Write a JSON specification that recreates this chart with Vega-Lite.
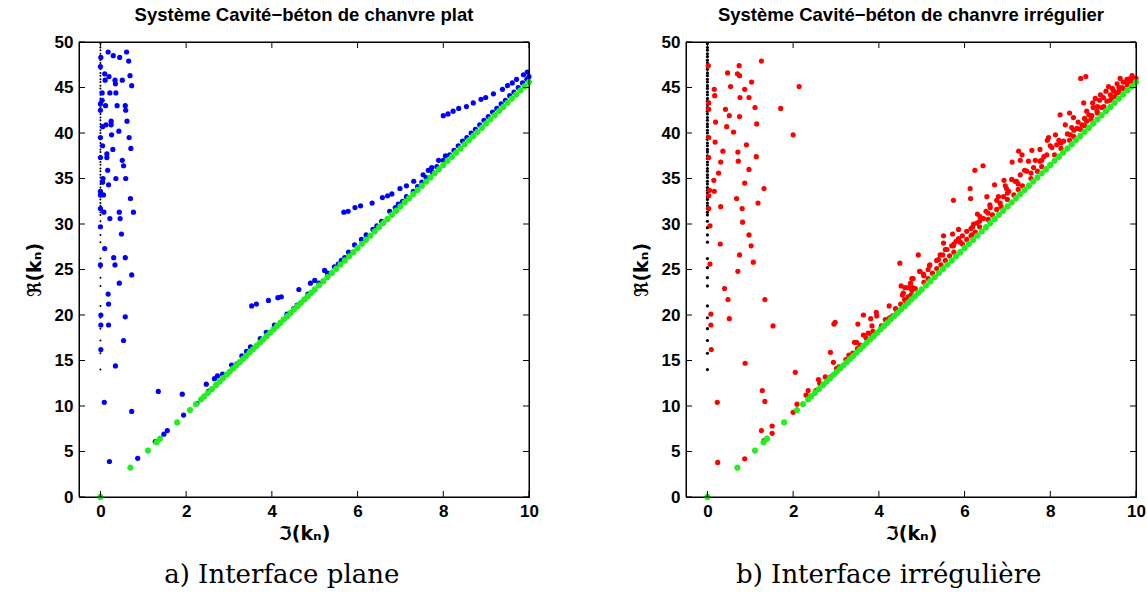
{
  "$schema": "https://vega.github.io/schema/vega-lite/v6.json",
  "background": "white",
  "padding": {"left": 24, "top": 5, "right": 0, "bottom": 0},
  "config": {
    "view": {"stroke": "black", "strokeWidth": 1},
    "axis": {
      "domain": true, "domainColor": "black", "domainWidth": 1,
      "labelFont": "Liberation Sans", "labelFontWeight": "bold", "labelFontSize": 17, "labelColor": "black",
      "titleFont": "DejaVu Sans", "titleFontWeight": "bold", "titleFontSize": 19, "titleColor": "black",
      "ticks": false, "grid": false, "labelFlush": false, "labelOverlap": false
    }
  },
  "spacing": 92,
  "datasets": {
    "ticksX": [{"v":0},{"v":2},{"v":4},{"v":6},{"v":8},{"v":10}],
    "ticksY": [{"v":0},{"v":5},{"v":10},{"v":15},{"v":20},{"v":25},{"v":30},{"v":35},{"v":40},{"v":45},{"v":50}],
    "black": [
      {"x":0,"y":14.0},{"x":0,"y":15.8},{"x":0,"y":17.2},{"x":0,"y":18.5},{"x":0,"y":19.7},{"x":0,"y":21.0},{"x":0,"y":23.2},{"x":0,"y":24.1},{"x":0,"y":25.2},{"x":0,"y":26.2},{"x":0,"y":28.0},{"x":0,"y":28.8},{"x":0,"y":29.6},{"x":0,"y":30.3},
      {"x":0,"y":31.0},{"x":0,"y":31.3},{"x":0,"y":31.7},{"x":0,"y":32.0},{"x":0,"y":32.3},{"x":0,"y":32.7},{"x":0,"y":33.0},{"x":0,"y":33.4},{"x":0,"y":33.7},{"x":0,"y":34.0},{"x":0,"y":34.4},{"x":0,"y":34.7},{"x":0,"y":35.1},{"x":0,"y":35.4},{"x":0,"y":35.8},{"x":0,"y":36.1},{"x":0,"y":36.5},{"x":0,"y":36.8},{"x":0,"y":37.2},{"x":0,"y":37.5},{"x":0,"y":37.9},{"x":0,"y":38.2},{"x":0,"y":38.6},{"x":0,"y":38.9},{"x":0,"y":39.3},{"x":0,"y":39.6},{"x":0,"y":40.0},{"x":0,"y":40.3},{"x":0,"y":40.7},{"x":0,"y":41.0},{"x":0,"y":41.4},{"x":0,"y":41.7},{"x":0,"y":42.1},{"x":0,"y":42.4},{"x":0,"y":42.8},{"x":0,"y":43.1},{"x":0,"y":43.5},{"x":0,"y":43.8},{"x":0,"y":44.2},{"x":0,"y":44.5},{"x":0,"y":44.9},{"x":0,"y":45.2},{"x":0,"y":45.6},{"x":0,"y":45.9},{"x":0,"y":46.3},{"x":0,"y":46.6},{"x":0,"y":47.0},{"x":0,"y":47.3},{"x":0,"y":47.7},{"x":0,"y":48.0},{"x":0,"y":48.4},{"x":0,"y":48.7},{"x":0,"y":49.1},{"x":0,"y":49.4},{"x":0,"y":49.8}
    ],
    "green": [
      {"x":0,"y":0},{"x":0.70,"y":3.22},{"x":1.11,"y":5.10},{"x":1.31,"y":6.00},{"x":1.39,"y":6.40},{"x":1.79,"y":8.20},{"x":2.09,"y":9.55},{"x":2.23,"y":10.20},{"x":2.35,"y":10.72},{"x":2.42,"y":11.05},{"x":2.51,"y":11.45},{"x":2.60,"y":11.86},{"x":2.70,"y":12.31},{"x":2.78,"y":12.68},{"x":2.86,"y":13.05},{"x":2.95,"y":13.45},{"x":3.02,"y":13.78},{"x":3.10,"y":14.14},{"x":3.17,"y":14.46},{"x":3.25,"y":14.82},{"x":3.33,"y":15.18},{"x":3.40,"y":15.50},{"x":3.48,"y":15.87},{"x":3.56,"y":16.23},{"x":3.64,"y":16.60},{"x":3.72,"y":16.96},{"x":3.80,"y":17.33},{"x":3.88,"y":17.69},{"x":3.96,"y":18.06},{"x":4.04,"y":18.42},{"x":4.12,"y":18.79},{"x":4.20,"y":19.15},{"x":4.28,"y":19.52},{"x":4.36,"y":19.88},{"x":4.44,"y":20.25},{"x":4.52,"y":20.61},{"x":4.60,"y":20.98},{"x":4.68,"y":21.34},{"x":4.76,"y":21.71},{"x":4.84,"y":22.07},{"x":4.92,"y":22.44},{"x":5.00,"y":22.80},
      {"x":5.1,"y":23.26},{"x":5.2,"y":23.71},{"x":5.3,"y":24.17},{"x":5.4,"y":24.62},{"x":5.5,"y":25.08},{"x":5.6,"y":25.54},{"x":5.7,"y":25.99},{"x":5.8,"y":26.45},{"x":5.9,"y":26.90},{"x":6.0,"y":27.36},{"x":6.1,"y":27.82},{"x":6.2,"y":28.27},{"x":6.3,"y":28.73},{"x":6.4,"y":29.18},{"x":6.5,"y":29.64},{"x":6.6,"y":30.10},{"x":6.7,"y":30.55},{"x":6.8,"y":31.01},{"x":6.9,"y":31.46},{"x":7.0,"y":31.92},{"x":7.1,"y":32.38},{"x":7.2,"y":32.83},{"x":7.3,"y":33.29},{"x":7.4,"y":33.74},{"x":7.5,"y":34.20},{"x":7.6,"y":34.66},{"x":7.7,"y":35.11},{"x":7.8,"y":35.57},{"x":7.9,"y":36.02},{"x":8.0,"y":36.48},{"x":8.1,"y":36.94},{"x":8.2,"y":37.39},{"x":8.3,"y":37.85},{"x":8.4,"y":38.30},{"x":8.5,"y":38.76},{"x":8.6,"y":39.22},{"x":8.7,"y":39.67},{"x":8.8,"y":40.13},{"x":8.9,"y":40.58},{"x":9.0,"y":41.04},{"x":9.1,"y":41.50},{"x":9.2,"y":41.95},{"x":9.3,"y":42.41},{"x":9.4,"y":42.86},{"x":9.5,"y":43.32},{"x":9.6,"y":43.78},{"x":9.7,"y":44.23},{"x":9.8,"y":44.69},{"x":9.9,"y":45.14},{"x":10.0,"y":45.60}
    ],
    "blue": [
      {"x":0.18,"y":48.9},{"x":0.61,"y":48.9},{"x":0.30,"y":48.5},{"x":0.45,"y":48.3},{"x":0.01,"y":48.3},{"x":0.66,"y":47.9},{"x":0,"y":47.3},{"x":0.10,"y":46.5},{"x":0.20,"y":46.2},{"x":0.69,"y":46.3},{"x":0.11,"y":45.8},{"x":0.34,"y":45.8},{"x":0.35,"y":45.4},{"x":0.51,"y":45.8},{"x":0.73,"y":45.2},{"x":0.04,"y":44.4},{"x":0.22,"y":44.4},{"x":0.36,"y":44.4},{"x":0.04,"y":43.6},{"x":0,"y":43.2},{"x":0.12,"y":43.0},{"x":0.39,"y":43.0},{"x":0.58,"y":43.0},{"x":0.59,"y":42.5},{"x":0,"y":42.5},{"x":0.05,"y":40.7},{"x":0.13,"y":40.9},{"x":0.25,"y":41.3},{"x":0.25,"y":40.9},{"x":0.62,"y":41.3},{"x":0.43,"y":40.2},{"x":0,"y":39.5},{"x":0.26,"y":39.8},{"x":0.67,"y":39.5},{"x":0.05,"y":38.6},{"x":0.29,"y":38.2},{"x":0.71,"y":38.3},{"x":0,"y":37.3},{"x":0.15,"y":37.7},{"x":0.15,"y":37.3},{"x":0.51,"y":37.0},{"x":0.54,"y":36.4},{"x":0.17,"y":35.9},{"x":0.06,"y":35.0},{"x":0.36,"y":35.0},{"x":0.59,"y":35.0},{"x":0.05,"y":34.6},{"x":0.19,"y":34.3},{"x":0,"y":33.6},{"x":0,"y":33.2},{"x":0.07,"y":33.2},{"x":0.70,"y":32.8},{"x":0,"y":31.7},{"x":0.08,"y":31.3},{"x":0.44,"y":31.3},{"x":0.77,"y":31.3},{"x":0.22,"y":30.6},{"x":0.46,"y":30.6},{"x":0,"y":29.7},{"x":0.49,"y":28.9},{"x":0.10,"y":27.3},{"x":0.31,"y":26.3},{"x":0.58,"y":26.3},{"x":0,"y":25.5},{"x":0.34,"y":25.5},{"x":0.73,"y":24.4},{"x":0.44,"y":23.5},{"x":0.18,"y":22.3},{"x":0.19,"y":21.2},{"x":0.01,"y":20.0},{"x":0.58,"y":19.8},{"x":0.01,"y":18.9},{"x":0.19,"y":18.9},{"x":0.54,"y":17.2},{"x":0.01,"y":16.2},{"x":0.35,"y":14.4},{"x":1.35,"y":11.6},{"x":1.91,"y":11.3},{"x":0.09,"y":10.4},{"x":0.73,"y":9.4},{"x":1.94,"y":9.0},{"x":1.56,"y":7.3},{"x":1.48,"y":6.9},{"x":1.28,"y":6.1},{"x":0.87,"y":4.25},{"x":0.21,"y":3.9},
      {"x":2.25,"y":10.3},{"x":2.47,"y":12.4},{"x":2.52,"y":11.6},{"x":2.66,"y":13.0},{"x":2.73,"y":13.3},{"x":2.85,"y":13.5},{"x":3.06,"y":14.5},{"x":3.18,"y":14.6},{"x":3.30,"y":15.5},{"x":3.41,"y":16.0},{"x":3.50,"y":16.5},{"x":3.53,"y":21.0},{"x":3.64,"y":21.2},{"x":3.73,"y":17.4},{"x":3.87,"y":18.1},{"x":3.92,"y":21.6},{"x":4.06,"y":18.9},{"x":4.14,"y":21.9},{"x":4.22,"y":22.0},{"x":4.35,"y":20.1},{"x":4.51,"y":20.7},{"x":4.59,"y":21.1},{"x":4.63,"y":22.8},{"x":4.84,"y":22.3},{"x":4.90,"y":23.5},{"x":5.0,"y":23.8},{"x":5.1,"y":23.5},
      {"x":5.68,"y":31.3},{"x":5.78,"y":31.4},{"x":5.94,"y":31.8},{"x":6.07,"y":32.0},{"x":6.34,"y":32.3},{"x":6.58,"y":32.9},{"x":6.70,"y":33.1},{"x":6.80,"y":33.3},{"x":6.99,"y":33.9},{"x":7.14,"y":34.2},{"x":7.31,"y":34.7},{"x":7.53,"y":35.4},{"x":7.65,"y":35.9},{"x":7.73,"y":36.2},{"x":7.89,"y":37.0},{"x":8.05,"y":37.5},
      {"x":8.00,"y":41.9},{"x":8.11,"y":42.1},{"x":8.23,"y":42.4},{"x":8.36,"y":42.7},{"x":8.54,"y":42.9},{"x":8.70,"y":43.3},{"x":8.88,"y":43.7},{"x":8.99,"y":43.9},{"x":9.17,"y":44.3},{"x":9.38,"y":44.8},{"x":9.50,"y":45.2},{"x":9.61,"y":45.5},{"x":9.71,"y":45.9},{"x":9.87,"y":46.4},{"x":9.96,"y":46.7},
      {"x":5.23,"y":24.9},{"x":5.30,"y":24.6},{"x":5.46,"y":25.3},{"x":5.55,"y":25.6},{"x":5.62,"y":26.0},{"x":5.70,"y":26.3},{"x":5.79,"y":26.9},{"x":5.93,"y":27.7},{"x":6.09,"y":28.3},{"x":6.20,"y":28.8},{"x":6.36,"y":29.4},{"x":6.45,"y":29.8},{"x":6.56,"y":30.3},{"x":6.75,"y":31.4},{"x":6.88,"y":31.8},{"x":6.95,"y":32.2},{"x":7.05,"y":32.5},{"x":7.14,"y":33.0},{"x":7.30,"y":33.6},{"x":7.40,"y":34.1},{"x":7.50,"y":34.6},{"x":7.60,"y":35.1},{"x":7.75,"y":35.7},{"x":7.85,"y":36.3},{"x":8.0,"y":37.0},{"x":8.15,"y":37.6},{"x":8.25,"y":38.1},{"x":8.35,"y":38.6},{"x":8.45,"y":39.1},{"x":8.55,"y":39.5},{"x":8.65,"y":40.0},{"x":8.75,"y":40.4},{"x":8.85,"y":40.9},{"x":8.95,"y":41.4},{"x":9.05,"y":41.8},{"x":9.15,"y":42.3},{"x":9.25,"y":42.7},{"x":9.35,"y":43.2},{"x":9.45,"y":43.6},{"x":9.55,"y":44.1},{"x":9.65,"y":44.5},{"x":9.75,"y":45.0},{"x":9.85,"y":45.5},{"x":9.95,"y":45.9},{"x":10.0,"y":46.2}
    ],
    "red": [
      {"x":1.26,"y":47.9},{"x":0.74,"y":47.4},{"x":0.02,"y":47.4},{"x":0.47,"y":46.6},{"x":0.70,"y":46.5},{"x":0.75,"y":46.3},{"x":1.03,"y":45.6},{"x":0.16,"y":44.8},{"x":0.54,"y":45.1},{"x":2.14,"y":45.1},{"x":0.87,"y":44.8},{"x":0.17,"y":44.1},{"x":0.76,"y":43.9},{"x":0.97,"y":43.9},{"x":0.03,"y":43.3},{"x":1.11,"y":42.8},{"x":1.71,"y":42.7},{"x":0.42,"y":42.6},{"x":0.03,"y":42.6},{"x":0.51,"y":41.9},{"x":0.75,"y":41.8},{"x":0.19,"y":41.2},{"x":0.45,"y":40.7},{"x":1.15,"y":41.0},{"x":0.61,"y":40.1},{"x":2.00,"y":39.8},{"x":0.03,"y":39.5},{"x":0.18,"y":39.0},{"x":0.91,"y":38.7},{"x":0.36,"y":38.0},{"x":0.71,"y":37.9},{"x":0.03,"y":37.3},{"x":1.14,"y":37.4},{"x":0.72,"y":36.9},{"x":0.31,"y":36.8},{"x":0.97,"y":36.0},{"x":0.26,"y":35.6},{"x":0.15,"y":34.8},{"x":0.87,"y":34.5},{"x":0.05,"y":33.7},{"x":0.16,"y":33.6},{"x":1.32,"y":33.9},{"x":0.03,"y":33.1},{"x":0.68,"y":32.8},{"x":1.18,"y":32.3},{"x":0.03,"y":31.7},{"x":0.31,"y":31.9},{"x":0.81,"y":31.7},{"x":0.82,"y":30.2},{"x":0.06,"y":29.8},{"x":0.97,"y":28.8},{"x":0.30,"y":27.8},{"x":1.02,"y":27.6},{"x":0.75,"y":26.6},{"x":1.07,"y":25.8},{"x":0.06,"y":25.6},{"x":0.71,"y":24.8},{"x":0.40,"y":22.9},{"x":0.48,"y":21.7},{"x":1.34,"y":21.7},{"x":0.08,"y":20.1},{"x":0.08,"y":18.9},{"x":0.51,"y":19.6},{"x":1.53,"y":18.8},{"x":0.09,"y":16.2},{"x":0.88,"y":14.7},{"x":2.05,"y":13.7},{"x":1.28,"y":11.7},{"x":1.34,"y":10.5},{"x":0.23,"y":10.4},{"x":2.09,"y":10.2},{"x":2.00,"y":9.3},{"x":1.26,"y":7.3},{"x":1.51,"y":7.8},{"x":1.51,"y":7.0},{"x":1.32,"y":6.2},{"x":0.87,"y":4.2},{"x":0.24,"y":3.8},
      {"x":2.30,"y":11.2},{"x":2.35,"y":11.7},{"x":2.41,"y":11.1},{"x":2.53,"y":11.7},{"x":2.59,"y":12.9},{"x":2.62,"y":12.5},{"x":2.75,"y":13.2},{"x":2.87,"y":13.2},{"x":2.87,"y":15.9},{"x":2.94,"y":14.8},{"x":2.95,"y":19.0},{"x":2.98,"y":19.2},{"x":3.01,"y":14.1},{"x":3.07,"y":14.3},{"x":3.23,"y":15.1},{"x":3.39,"y":15.8},{"x":3.43,"y":17.0},{"x":3.48,"y":17.0},{"x":3.51,"y":19.0},{"x":3.50,"y":16.3},{"x":3.56,"y":16.7},{"x":3.64,"y":20.0},{"x":3.64,"y":17.8},{"x":3.75,"y":18.0},{"x":3.81,"y":19.6},{"x":3.84,"y":18.8},{"x":3.86,"y":18.2},{"x":3.84,"y":17.8},{"x":3.94,"y":20.3},{"x":3.95,"y":19.9},{"x":4.06,"y":18.8},{"x":4.24,"y":21.0},{"x":4.25,"y":19.7},{"x":4.32,"y":19.9},{"x":4.39,"y":20.7},{"x":4.42,"y":20.4},{"x":4.51,"y":21.2},{"x":4.52,"y":23.2},{"x":4.55,"y":22.2},{"x":4.63,"y":21.5},{"x":4.68,"y":22.0},{"x":4.74,"y":23.5},{"x":4.79,"y":23.0},{"x":4.77,"y":22.7},{"x":4.75,"y":22.2},{"x":4.49,"y":25.7},
      {"x":5.74,"y":32.6},{"x":6.13,"y":33.9},{"x":6.14,"y":32.8},{"x":6.24,"y":35.9},{"x":6.43,"y":36.4},{"x":4.92,"y":26.6},{"x":5.51,"y":28.7},{"x":5.51,"y":27.9},{"x":5.72,"y":28.9},{"x":5.86,"y":29.4},{"x":6.19,"y":29.7},{"x":6.30,"y":31.1},{"x":6.52,"y":33.0},{"x":6.70,"y":34.3},{"x":6.92,"y":34.8},{"x":7.11,"y":36.8},{"x":7.26,"y":38.0},{"x":7.34,"y":37.6},{"x":7.57,"y":38.1},{"x":7.93,"y":39.2},{"x":8.23,"y":42.0},{"x":8.45,"y":42.2},{"x":8.71,"y":46.0},{"x":8.83,"y":46.2},{"x":8.78,"y":43.3},{"x":8.99,"y":43.3},{"x":9.17,"y":44.2},{"x":9.36,"y":45.1},{"x":9.63,"y":46.0},{"x":9.87,"y":46.0},{"x":9.94,"y":46.0},{"x":9.79,"y":45.9},{"x":7.30,"y":37.0},{"x":7.49,"y":36.9},{"x":7.76,"y":38.2},{"x":7.96,"y":39.5},{"x":8.12,"y":39.8},{"x":8.35,"y":40.9},{"x":8.54,"y":41.7},{"x":8.50,"y":40.6},{"x":8.85,"y":42.4},{"x":9.00,"y":42.8},{"x":9.24,"y":43.9},{"x":9.48,"y":44.6},{"x":9.56,"y":45.4},{"x":6.91,"y":33.0},{"x":7.03,"y":33.6},{"x":7.18,"y":34.7},{"x":6.83,"y":32.3},{"x":6.60,"y":31.8},{"x":6.44,"y":30.6},{"x":6.29,"y":30.1},{"x":6.17,"y":28.8},{"x":5.90,"y":28.0},{"x":5.74,"y":27.6},{"x":5.43,"y":26.6},{"x":5.18,"y":25.4},{"x":4.96,"y":24.8},{"x":4.77,"y":24.0},{"x":4.61,"y":23.0},
      {"x":4.57,"y":22.4},{"x":4.69,"y":23.0},{"x":4.80,"y":24.0},{"x":4.95,"y":24.8},{"x":5.04,"y":24.5},{"x":5.19,"y":25.5},{"x":5.39,"y":26.1},{"x":5.49,"y":26.6},{"x":5.59,"y":27.2},{"x":5.70,"y":27.6},{"x":5.80,"y":28.1},{"x":5.86,"y":28.4},{"x":6.05,"y":29.2},{"x":6.21,"y":30.0},{"x":6.36,"y":30.8},{"x":6.50,"y":31.4},{"x":6.59,"y":32.1},{"x":6.79,"y":33.0},{"x":6.98,"y":33.9},{"x":7.21,"y":34.7},{"x":7.30,"y":35.4},{"x":7.45,"y":35.8},{"x":7.61,"y":36.2},{"x":7.76,"y":36.9},{"x":7.92,"y":37.6},{"x":8.04,"y":38.4},{"x":8.15,"y":38.7},{"x":8.31,"y":39.1},{"x":8.47,"y":39.8},{"x":8.62,"y":40.5},{"x":8.74,"y":40.9},{"x":8.85,"y":41.3},{"x":8.97,"y":41.9},{"x":9.09,"y":42.4},{"x":9.20,"y":42.8},{"x":9.32,"y":43.5},{"x":9.44,"y":43.9},{"x":9.56,"y":44.4},{"x":9.67,"y":45.0},{"x":9.79,"y":45.5},{"x":9.87,"y":45.8},{"x":9.91,"y":46.3},
      {"x":9.60,"y":45.0},{"x":9.70,"y":45.6},{"x":9.85,"y":45.4},{"x":9.95,"y":45.9},{"x":10.0,"y":46.0},{"x":9.45,"y":44.9},{"x":9.30,"y":44.6},{"x":9.15,"y":43.6},{"x":9.05,"y":43.8},{"x":8.90,"y":42.0},{"x":8.65,"y":41.2},{"x":8.40,"y":39.9},{"x":8.20,"y":39.2},{"x":8.00,"y":38.6},{"x":7.85,"y":37.4},{"x":7.65,"y":37.0},{"x":7.40,"y":35.9},{"x":7.10,"y":34.9},{"x":6.95,"y":34.2},
      {"x":5.05,"y":23.6},{"x":5.05,"y":24.3},{"x":5.15,"y":24.0},{"x":5.15,"y":25.0},{"x":5.25,"y":24.6},{"x":5.35,"y":25.1},{"x":5.35,"y":26.0},{"x":5.45,"y":25.5},{"x":5.55,"y":26.0},{"x":5.55,"y":27.2},{"x":5.65,"y":26.5},{"x":5.75,"y":26.9},{"x":5.75,"y":27.8},{"x":5.95,"y":27.8},{"x":5.95,"y":28.7},{"x":6.05,"y":28.3},{"x":6.15,"y":28.7},{"x":6.15,"y":29.5},{"x":6.25,"y":29.1},{"x":6.35,"y":29.7},{"x":6.35,"y":30.3},{"x":6.55,"y":30.5},{"x":6.55,"y":31.2},{"x":6.65,"y":31.0},{"x":6.75,"y":31.6},{"x":6.75,"y":32.6},{"x":6.85,"y":31.9},{"x":7.0,"y":32.7},{"x":7.0,"y":33.4},{"x":7.15,"y":33.2},{"x":7.25,"y":33.8},{"x":7.25,"y":34.4},{"x":7.35,"y":34.2},{"x":7.55,"y":35.0},{"x":7.55,"y":35.6},{"x":7.7,"y":35.8},{"x":7.8,"y":36.3},{"x":7.8,"y":37.0},{"x":8.1,"y":37.6},{"x":8.25,"y":38.3},{"x":8.25,"y":38.9},{"x":8.45,"y":39.2},{"x":8.55,"y":39.6},{"x":8.55,"y":40.3},{"x":8.7,"y":40.4},{"x":8.8,"y":40.8},{"x":8.8,"y":41.6},{"x":8.95,"y":41.5},{"x":9.1,"y":42.2},{"x":9.1,"y":42.9},{"x":9.25,"y":42.9},{"x":9.4,"y":43.6},{"x":9.4,"y":44.2},{"x":9.5,"y":44.0},{"x":9.6,"y":44.5},{"x":9.7,"y":44.9},{"x":9.8,"y":45.3},{"x":9.9,"y":45.7},{"x":3.3,"y":15.6},{"x":3.7,"y":17.5},{"x":4.15,"y":19.5},{"x":4.6,"y":21.7},{"x":4.85,"y":22.9}
    ]
  },
  "hconcat": [
    {
      "title": {"text": "a) Interface plane", "orient": "bottom", "anchor": "middle", "font": "DejaVu Serif", "fontSize": 26, "fontWeight": "normal", "color": "black", "offset": 18},
      "vconcat": [
        {
          "width": 450, "height": 455,
          "title": {"text": "Système Cavité−béton de chanvre plat", "anchor": "middle", "frame": "group", "font": "Liberation Sans", "fontSize": 18.5, "fontWeight": "bold", "color": "black", "offset": 9},
          "layer": [
            {
              "data": {"name": "black"},
              "mark": {"type": "point", "filled": true, "color": "black", "size": 4, "opacity": 1},
              "encoding": {
                "x": {"field": "x", "type": "quantitative", "scale": {"domain": [-0.5, 10], "nice": false, "zero": false}, "axis": {"title": "ℑ(kₙ)", "titlePadding": 5, "labelPadding": 6, "values": [0,2,4,6,8,10]}},
                "y": {"field": "y", "type": "quantitative", "scale": {"domain": [0, 50], "nice": false, "zero": false}, "axis": {"title": "ℜ(kₙ)", "titlePadding": 10, "labelPadding": 6, "values": [0,5,10,15,20,25,30,35,40,45,50]}}
              }
            },
            {
              "data": {"name": "blue"},
              "mark": {"type": "point", "filled": true, "color": "#0000ff", "size": 27, "opacity": 1},
              "encoding": {
                "x": {"field": "x", "type": "quantitative"},
                "y": {"field": "y", "type": "quantitative"}
              }
            },
            {
              "data": {"name": "green"},
              "mark": {"type": "point", "filled": false, "shape": "M-1,0H1M0,-1V1M-0.7,-0.7L0.7,0.7M-0.7,0.7L0.7,-0.7", "color": "#22ee22", "strokeWidth": 2, "size": 40, "opacity": 1},
              "encoding": {
                "x": {"field": "x", "type": "quantitative"},
                "y": {"field": "y", "type": "quantitative"}
              }
            },
            {"data": {"values": [{}]}, "mark": {"type": "rect", "filled": false, "color": "black", "strokeWidth": 1}, "encoding": {"x": {"datum": -0.5}, "x2": {"datum": 10}, "y": {"datum": 0}, "y2": {"datum": 50}}},
            {"data": {"name": "ticksX"}, "mark": {"type": "tick", "orient": "vertical", "color": "black", "size": 6, "thickness": 1, "opacity": 1}, "encoding": {"x": {"field": "v", "type": "quantitative"}, "y": {"datum": 0.33}}},
            {"data": {"name": "ticksX"}, "mark": {"type": "tick", "orient": "vertical", "color": "black", "size": 6, "thickness": 1, "opacity": 1}, "encoding": {"x": {"field": "v", "type": "quantitative"}, "y": {"datum": 49.67}}},
            {"data": {"name": "ticksY"}, "mark": {"type": "tick", "orient": "horizontal", "color": "black", "size": 6, "thickness": 1, "opacity": 1}, "encoding": {"y": {"field": "v", "type": "quantitative"}, "x": {"datum": -0.43}}},
            {"data": {"name": "ticksY"}, "mark": {"type": "tick", "orient": "horizontal", "color": "black", "size": 6, "thickness": 1, "opacity": 1}, "encoding": {"y": {"field": "v", "type": "quantitative"}, "x": {"datum": 9.93}}}
          ]
        }
      ]
    },
    {
      "title": {"text": "b) Interface irrégulière", "orient": "bottom", "anchor": "middle", "font": "DejaVu Serif", "fontSize": 26, "fontWeight": "normal", "color": "black", "offset": 18},
      "vconcat": [
        {
          "width": 450, "height": 455,
          "title": {"text": "Système Cavité−béton de chanvre irrégulier", "anchor": "middle", "frame": "group", "font": "Liberation Sans", "fontSize": 18.5, "fontWeight": "bold", "color": "black", "offset": 9},
          "layer": [
            {
              "data": {"name": "black"},
              "mark": {"type": "point", "filled": true, "color": "black", "size": 10, "opacity": 1},
              "encoding": {
                "x": {"field": "x", "type": "quantitative", "scale": {"domain": [-0.5, 10], "nice": false, "zero": false}, "axis": {"title": "ℑ(kₙ)", "titlePadding": 5, "labelPadding": 6, "values": [0,2,4,6,8,10]}},
                "y": {"field": "y", "type": "quantitative", "scale": {"domain": [0, 50], "nice": false, "zero": false}, "axis": {"title": "ℜ(kₙ)", "titlePadding": 10, "labelPadding": 6, "values": [0,5,10,15,20,25,30,35,40,45,50]}}
              }
            },
            {
              "data": {"name": "red"},
              "mark": {"type": "point", "filled": true, "color": "#ff0000", "size": 27, "opacity": 1},
              "encoding": {
                "x": {"field": "x", "type": "quantitative"},
                "y": {"field": "y", "type": "quantitative"}
              }
            },
            {
              "data": {"name": "green"},
              "mark": {"type": "point", "filled": false, "shape": "M-1,0H1M0,-1V1M-0.7,-0.7L0.7,0.7M-0.7,0.7L0.7,-0.7", "color": "#22ee22", "strokeWidth": 2, "size": 40, "opacity": 1},
              "encoding": {
                "x": {"field": "x", "type": "quantitative"},
                "y": {"field": "y", "type": "quantitative"}
              }
            },
            {"data": {"values": [{}]}, "mark": {"type": "rect", "filled": false, "color": "black", "strokeWidth": 1}, "encoding": {"x": {"datum": -0.5}, "x2": {"datum": 10}, "y": {"datum": 0}, "y2": {"datum": 50}}},
            {"data": {"name": "ticksX"}, "mark": {"type": "tick", "orient": "vertical", "color": "black", "size": 6, "thickness": 1, "opacity": 1}, "encoding": {"x": {"field": "v", "type": "quantitative"}, "y": {"datum": 0.33}}},
            {"data": {"name": "ticksX"}, "mark": {"type": "tick", "orient": "vertical", "color": "black", "size": 6, "thickness": 1, "opacity": 1}, "encoding": {"x": {"field": "v", "type": "quantitative"}, "y": {"datum": 49.67}}},
            {"data": {"name": "ticksY"}, "mark": {"type": "tick", "orient": "horizontal", "color": "black", "size": 6, "thickness": 1, "opacity": 1}, "encoding": {"y": {"field": "v", "type": "quantitative"}, "x": {"datum": -0.43}}},
            {"data": {"name": "ticksY"}, "mark": {"type": "tick", "orient": "horizontal", "color": "black", "size": 6, "thickness": 1, "opacity": 1}, "encoding": {"y": {"field": "v", "type": "quantitative"}, "x": {"datum": 9.93}}}
          ]
        }
      ]
    }
  ]
}
